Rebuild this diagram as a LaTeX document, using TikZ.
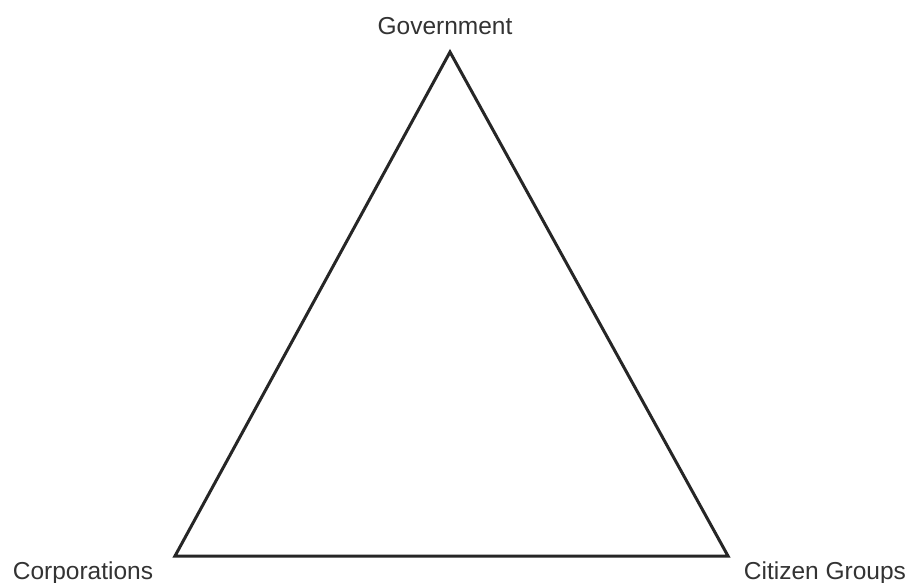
\documentclass[tikz,border=0pt]{standalone}
\usepackage{fontspec}
\setmainfont{Liberation Sans}
\begin{document}
\begin{tikzpicture}[x=1pt,y=-1pt,
  lbl/.style={font=\fontsize{24.5}{27}\selectfont, text=black!80, inner sep=0pt, anchor=base},
  edge/.style={draw=black!85, line width=3pt, line join=miter}]
\useasboundingbox[fill=white] (0,0) rectangle (908,583);
\coordinate (G) at (450,52);
\coordinate (C) at (175,556);
\coordinate (Z) at (728,556);
\draw[edge] (G) -- (C) -- (Z) -- cycle;
\node[lbl] (gl) at (445,35) {Government};
\node[lbl] (cl) at (83,579) {Corporations};
\node[lbl] (zl) at (825,579) {Citizen Groups};
\end{tikzpicture}
\end{document}
